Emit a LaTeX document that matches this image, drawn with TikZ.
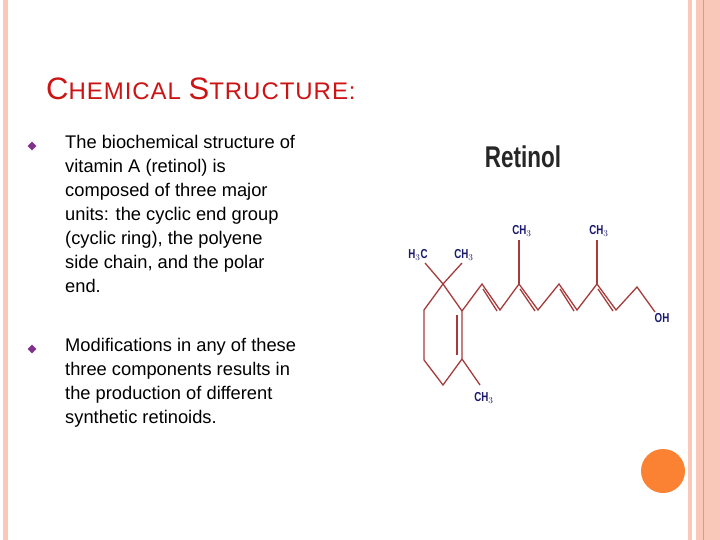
\documentclass[tikz,border=0pt]{standalone}
\usepackage{fontspec}
\setmainfont{Liberation Sans}
\newfontfamily\condf[FakeStretch=0.75]{Liberation Sans}
\usetikzlibrary{shapes.geometric,calc}
\definecolor{strip}{RGB}{250,200,185}
\definecolor{stripd}{RGB}{235,150,120}
\definecolor{ttl}{RGB}{204,20,20}
\definecolor{bond}{RGB}{165,60,60}
\definecolor{lab}{RGB}{25,25,110}
\definecolor{bul}{RGB}{130,50,140}
\definecolor{orng}{RGB}{250,130,50}
\begin{document}
\begin{tikzpicture}[x=1pt,y=-1pt,
  bd/.style={draw=bond,line width=1.3pt},
  lb/.style={text=lab,font=\fontsize{13}{13}\selectfont\bfseries\condf,inner sep=0pt},
  txt/.style={anchor=north west,align=left,inner sep=0pt,font=\fontsize{18.3}{24}\selectfont},
  bull/.style={diamond,fill=bul,inner sep=0pt,minimum size=9pt}]
\useasboundingbox (0,0) rectangle (720,540);
\fill[white] (0,0) rectangle (720,540);
% borders
\fill[strip] (3,0) rectangle (8,540);
\fill[strip] (688,0) rectangle (692,540);
\fill[strip] (696,0) rectangle (720,540);
\draw[stripd,line width=0.8pt] (703,0) -- (703,540);
\fill[orng] (663,471) circle (22);
% title
\node[anchor=base west,inner sep=0pt,text=ttl] (title) at (46,100)
  {\addfontfeature{LetterSpace=4}\fontsize{31}{31}\selectfont C\fontsize{24}{24}\selectfont HEMICAL \fontsize{31}{31}\selectfont S\fontsize{24}{24}\selectfont TRUCTURE:};
% bullets
\node[bull] (b1) at (32,146) {};
\node[txt] (t1) at (65,135) {The biochemical structure of\\ vitamin A (retinol) is\\ composed of three major\\ units: the cyclic end group\\ (cyclic ring), the polyene\\ side chain, and the polar\\ end.};
\node[bull] (b2) at (32,349) {};
\node[txt] (t2) at (65,338) {Modifications in any of these\\ three components results in\\ the production of different\\ synthetic retinoids.};
% molecule
\node[font=\fontsize{30}{30}\selectfont\bfseries\condf,text=black!85] (ret) at (523,157) {Retinol};
\coordinate (q) at (443,284);
\coordinate (c2) at (462,311);
\coordinate (c3) at (462,359);
\coordinate (rb) at (443,385);
\coordinate (rl2) at (424,360);
\coordinate (rl1) at (424,310);
\coordinate (m1) at (425,263);
\coordinate (m2) at (462,263);
\coordinate (m3) at (480,385);
\coordinate (p1) at (482,284);
\coordinate (p2) at (500,310);
\coordinate (p3) at (519,284);
\coordinate (p4) at (538,310);
\coordinate (p5) at (559,284);
\coordinate (p6) at (577,310);
\coordinate (p7) at (597,284);
\coordinate (p8) at (616,310);
\coordinate (p9) at (637,287);
\coordinate (p10) at (655,312);
\coordinate (u1) at (519,240);
\coordinate (u2) at (597,240);
\draw[bd] (q)--(c2)--(c3)--(rb)--(rl2)--(rl1)--(q);
\draw[bd] (m1)--(q)--(m2);
\draw[bd] (c3)--(m3);
\draw[bd] (c2)--(p1)--(p2)--(p3)--(p4)--(p5)--(p6)--(p7)--(p8)--(p9)--(p10);
\draw[bd] (p3)--(u1); \draw[bd] (p7)--(u2);
% second lines of double bonds
\draw[bd] ($(c2)+(-5,4)$)--($(c3)+(-5,-4)$);
\draw[bd] ($(p1)+(1,5)$)--($(p2)+(-3,1)$);
\draw[bd] ($(p3)+(1,5)$)--($(p4)+(-3,1)$);
\draw[bd] ($(p5)+(1,5)$)--($(p6)+(-3,1)$);
\draw[bd] ($(p7)+(1,5)$)--($(p8)+(-3,1)$);
\node[lb] (l1) at (418,255) {H$_3$C};
\node[lb] (l2) at (464,255) {CH$_3$};
\node[lb] (l3) at (522,231) {CH$_3$};
\node[lb] (l4) at (599,231) {CH$_3$};
\node[lb] (l5) at (484,398) {CH$_3$};
\node[lb] (l6) at (662,318) {OH};
\end{tikzpicture}
\end{document}
